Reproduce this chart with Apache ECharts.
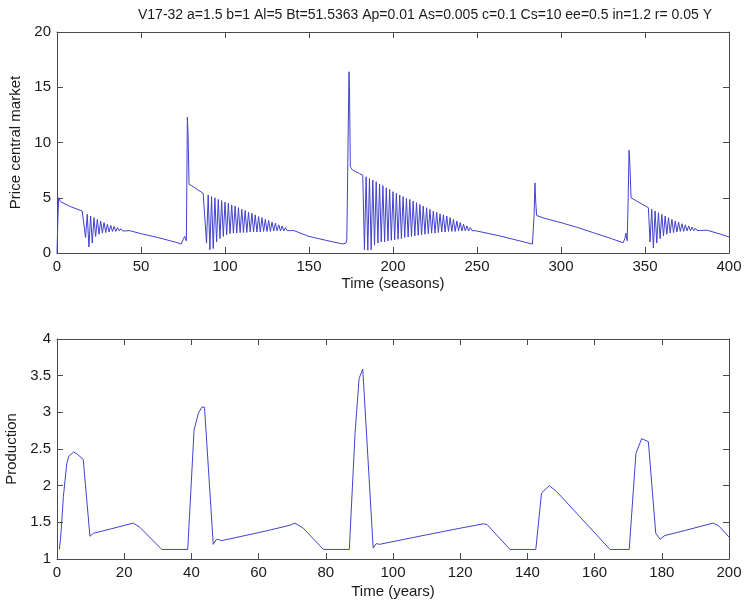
<!DOCTYPE html>
<html>
<head>
<meta charset="utf-8">
<script src="https://cdn.jsdelivr.net/npm/echarts@6/dist/echarts.min.js"></script>
<style>
html,body{margin:0;padding:0;background:#fff;}
#chart{width:745px;height:607px;}
</style>
</head>
<body>
<div id="chart"></div>
<script>
// ---- Data ----
var chartTitle = 'V17-32 a=1.5 b=1 Al=5 Bt=51.5363 Ap=0.01 As=0.005 c=0.1 Cs=10 ee=0.5 in=1.2 r= 0.05 Y';

// Top panel: price central market vs time (seasons) -- [season, price]
var pricePoints = [
  [0,0],[0.5,3.0],[1,5.0],[2,4.65],[8,4.2],[15,3.8],[16,3.7],
  [17,1.4],[18,3.5],[19,0.55],[20,3.35],[21,0.9],[22,3.2],[23,1.5],[24,3.05],[25,1.7],[26,2.9],[27,1.8],
  [28,2.75],[29,1.85],[30,2.6],[31,1.9],[32,2.5],[33,1.95],[34,2.4],[35,1.95],[36,2.3],[37,2.0],[38,2.2],
  [39,2.0],[40,2.15],[41,2.0],[42,2.08],[43,2.03],
  [44,2.0],[50,1.75],[60,1.4],[70,1.0],[74,0.82],[75,1.2],[76,1.5],[77,1.1],[77.6,12.3],[78,10.8],[78.6,6.2],
  [80,6.1],[87,5.4],
  [88,5.4],[89,0.9],[90,5.25],[91,0.3],[92,5.1],[93,0.4],[94,5.0],[95,1.0],[96,4.85],[97,1.3],[98,4.75],[99,1.5],
  [100,4.6],[101,1.65],[102,4.5],[103,1.75],[104,4.35],[105,1.8],[106,4.25],[107,1.8],[108,4.1],[109,1.85],
  [110,3.95],[111,1.85],[112,3.85],[113,1.85],[114,3.7],[115,1.9],[116,3.6],[117,1.9],[118,3.45],[119,1.9],
  [120,3.3],[121,1.9],[122,3.2],[123,1.95],[124,3.05],[125,1.95],[126,2.95],[127,1.95],[128,2.8],[129,2.0],
  [130,2.7],[131,2.0],[132,2.55],[133,2.0],[134,2.45],[135,2.0],[136,2.3],[137,2.02],[138,2.2],[139,2.03],[140,2.08],
  [141,2.03],[150,1.5],[160,1.15],[170,0.82],[172,0.9],[172.5,1.2],[173,1.3],[173.8,16.4],[174.1,15.0],[174.6,7.8],
  [176,7.5],[178,7.35],[180,7.2],[182,7.05],
  [183,0.3],[184,6.9],[185,0.25],[186,6.75],[187,0.3],[188,6.6],[189,0.7],[190,6.45],[191,0.9],[192,6.25],
  [193,1.0],[194,6.1],[195,1.0],[196,5.9],[197,1.1],[198,5.75],[199,1.15],[200,5.55],[201,1.2],[202,5.4],
  [203,1.25],[204,5.25],[205,1.3],[206,5.1],[207,1.4],[208,4.95],[209,1.45],[210,4.85],[211,1.5],[212,4.7],
  [213,1.55],[214,4.55],[215,1.6],[216,4.4],[217,1.65],[218,4.25],[219,1.7],[220,4.1],[221,1.75],[222,3.95],
  [223,1.8],[224,3.8],[225,1.8],[226,3.7],[227,1.85],[228,3.55],[229,1.9],[230,3.45],[231,1.9],[232,3.35],
  [233,1.95],[234,3.2],[235,1.95],[236,3.05],[237,1.95],[238,2.9],[239,2.0],[240,2.75],[241,2.0],[242,2.6],
  [243,2.0],[244,2.45],[245,2.0],[246,2.3],[247,2.02],[248,2.15],[249,2.02],[250,2.05],
  [263.7,1.54],[283,0.81],[284,3.5],[284.5,6.35],[285,4.5],[285.5,3.4],[290,3.15],[300,2.75],[310,2.3],
  [320,1.8],[330,1.3],[337,0.93],[338,1.3],[338.6,1.8],[339.4,1.1],[340,5.0],[340.5,9.3],[341,8.0],[341.7,5.0],
  [345,4.7],[352,4.1],
  [353,1.0],[354,3.95],[355,0.45],[356,3.8],[357,0.9],[358,3.65],[359,1.3],[360,3.5],[361,1.55],[362,3.35],
  [363,1.7],[364,3.2],[365,1.8],[366,3.05],[367,1.85],[368,2.9],[369,1.9],[370,2.8],[371,1.95],[372,2.65],
  [373,1.95],[374,2.55],[375,2.0],[376,2.45],[377,2.0],[378,2.35],[379,2.02],[380,2.25],[381,2.03],[382,2.2],
  [383,2.04],[384,2.15],[385,2.05],[386,2.1],[387,2.06],
  [395,1.7],[400,1.45]
];

// Bottom panel: production vs time (years) -- [year, production]
var productionPoints = [
  [0.7,1.13],[1.1,1.3],[1.9,1.85],[2.9,2.3],[3.5,2.4],[4.9,2.46],[6,2.43],[7.8,2.36],[9.8,1.31],[10.8,1.35],
  [16,1.41],[22.7,1.49],[24.7,1.43],[31.2,1.13],[38.9,1.13],[40.8,2.76],[42.1,2.99],[43.1,3.07],[43.9,3.07],
  [46.5,1.2],[47.3,1.26],[47.9,1.27],[48.9,1.25],[55,1.31],[62,1.38],[69.3,1.46],[70.8,1.49],[73.3,1.42],
  [79.3,1.13],[87,1.13],[88.7,2.71],[89.9,3.46],[91,3.59],[94.1,1.15],[95,1.21],[96,1.2],[110,1.33],
  [120,1.42],[126.9,1.48],[128,1.47],[134.8,1.13],[142.5,1.13],[144.2,1.9],[146.5,2.0],[148.7,1.92],
  [164.6,1.13],[170.3,1.13],[172.3,2.44],[174,2.64],[176,2.6],[178.2,1.35],[179.5,1.27],[180.9,1.32],
  [187,1.39],[195.3,1.49],[197,1.45],[200,1.3]
];

var seasonTicks = {min: 0, max: 400, interval: 50};
var priceTicks = {min: 0, max: 20, interval: 5};
var yearTicks = {min: 0, max: 200, interval: 20};
var productionTicks = {min: 1, max: 4, interval: 0.5};

// ---- Styling ----
var FONT = 'Liberation Sans, Arial, sans-serif';
var AXIS_COLOR = '#4a4a4a';
var TEXT_COLOR = '#1a1a1a';
var LINE_COLOR = '#4242cc';

function mainAxis(ticks, extra) {
  var a = {
    type: 'value',
    min: ticks.min, max: ticks.max, interval: ticks.interval,
    axisLine: {show: true, onZero: false, lineStyle: {color: AXIS_COLOR, width: 1}},
    axisTick: {show: true, inside: true, length: 6, lineStyle: {color: AXIS_COLOR}},
    axisLabel: {show: true, color: TEXT_COLOR, fontFamily: FONT, fontSize: 15, margin: 6},
    splitLine: {show: false},
    nameTextStyle: {color: TEXT_COLOR, fontFamily: FONT, fontSize: 15}
  };
  for (var k in extra) a[k] = extra[k];
  return a;
}
function mirrorAxis(ticks, extra) {
  var a = mainAxis(ticks, extra);
  a.axisLabel = {show: false};
  a.name = '';
  return a;
}

var chart = echarts.init(document.getElementById('chart'), null, {renderer: 'canvas'});
chart.setOption({
  backgroundColor: '#ffffff',
  animation: false,
  title: {
    text: chartTitle,
    left: 133, top: 3,
    textStyle: {fontFamily: FONT, fontSize: 14, fontWeight: 'normal', color: TEXT_COLOR}
  },
  grid: [
    {left: 57, top: 32, width: 672, height: 221, containLabel: false, outerBoundsMode: 'none'},
    {left: 57, top: 339, width: 672, height: 220, containLabel: false, outerBoundsMode: 'none'}
  ],
  xAxis: [
    mainAxis(seasonTicks, {gridIndex: 0, position: 'bottom', name: 'Time (seasons)', nameLocation: 'middle', nameGap: 23}),
    mirrorAxis(seasonTicks, {gridIndex: 0, position: 'top'}),
    mainAxis(yearTicks, {gridIndex: 1, position: 'bottom', name: 'Time (years)', nameLocation: 'middle', nameGap: 25}),
    mirrorAxis(yearTicks, {gridIndex: 1, position: 'top'})
  ],
  yAxis: [
    mainAxis(priceTicks, {gridIndex: 0, position: 'left', name: 'Price central market', nameLocation: 'middle', nameGap: 30}),
    mirrorAxis(priceTicks, {gridIndex: 0, position: 'right'}),
    mainAxis(productionTicks, {gridIndex: 1, position: 'left', name: 'Production', nameLocation: 'middle', nameGap: 32}),
    mirrorAxis(productionTicks, {gridIndex: 1, position: 'right'})
  ],
  series: [
    {
      type: 'line', xAxisIndex: 0, yAxisIndex: 0,
      data: pricePoints, showSymbol: false, symbol: 'none',
      lineStyle: {color: LINE_COLOR, width: 1}, itemStyle: {color: LINE_COLOR}
    },
    {
      type: 'line', xAxisIndex: 2, yAxisIndex: 2,
      data: productionPoints, showSymbol: false, symbol: 'none',
      lineStyle: {color: LINE_COLOR, width: 1}, itemStyle: {color: LINE_COLOR}
    }
  ]
});
</script>
</body>
</html>
